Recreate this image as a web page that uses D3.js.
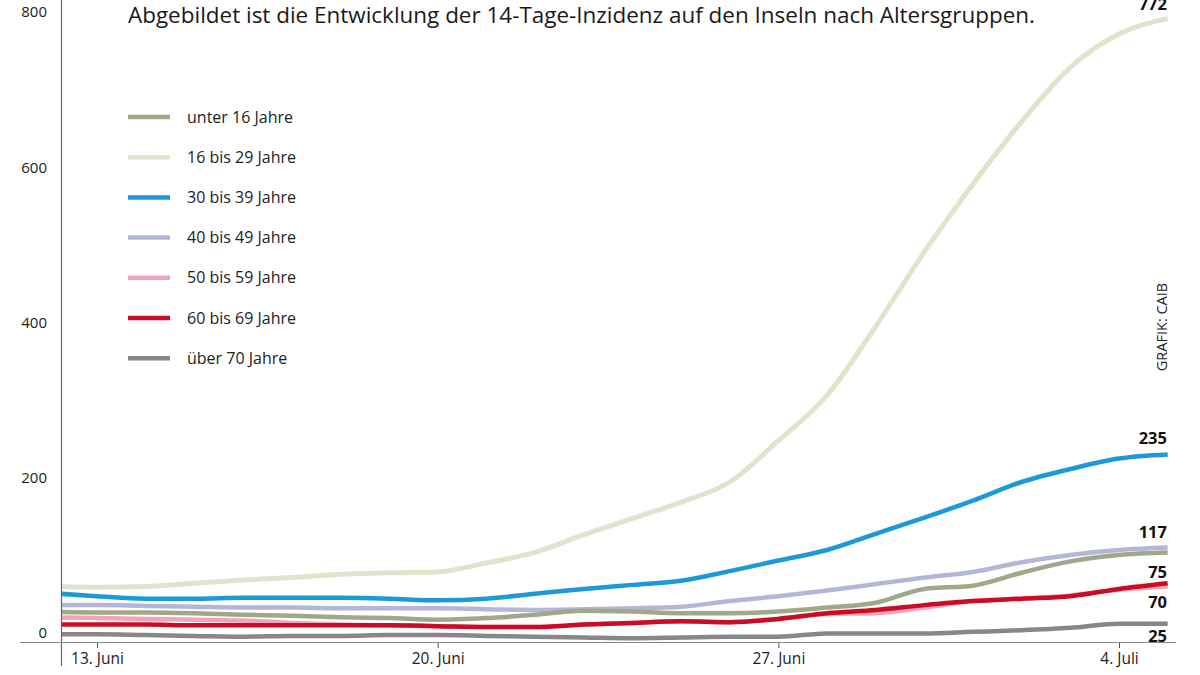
<!DOCTYPE html>
<html><head><meta charset="utf-8">
<script src="https://cdn.jsdelivr.net/npm/d3@7"></script>
<style>
html,body{margin:0;padding:0;background:#fff;}
svg{display:block;font-family:"Open Sans","Noto Sans",sans-serif;}
</style></head>
<body><svg id="c" width="1200" height="675"></svg>
<script>
const dates = ["2021-06-12","2021-06-13","2021-06-14","2021-06-15","2021-06-16","2021-06-17","2021-06-18","2021-06-19","2021-06-20","2021-06-21","2021-06-22","2021-06-23","2021-06-24","2021-06-25","2021-06-26","2021-06-27","2021-06-28","2021-06-29","2021-06-30","2021-07-01","2021-07-02","2021-07-03","2021-07-04","2021-07-05"];
const seriesNames = ["unter 16 Jahre","16 bis 29 Jahre","30 bis 39 Jahre","40 bis 49 Jahre","50 bis 59 Jahre","60 bis 69 Jahre","über 70 Jahre"];
const unter16 = [40,39,39,38,36,35,33,32,30,32,36,41,40,38,38,40,45,51,68,72,88,102,110,113];
const a16bis29 = [71,70,71,75,79,82,86,88,89,100,113,135,155,175,200,251,307,392,484,568,645,712,753,772];
const a30bis39 = [63,59,56,56,57,57,57,56,54,56,62,68,73,78,90,103,116,136,156,177,200,216,229,234];
const a40bis49 = [48,48,47,46,45,45,44,44,44,43,42,43,44,46,53,59,66,74,82,89,101,110,116,119];
const a50bis59 = [33,32,31,30,29,26,24,23,22,21,21,24,26,28,27,31,37,38,45,53,56,60,67,71];
const a60bis69 = [24,24,24,23,23,23,23,23,22,21,21,24,26,28,27,31,38,42,48,53,56,59,68,75];
const ueber70 = [12,12,11,10,9,10,10,11,11,10,9,8,7,8,9,9,13,13,13,15,17,20,25,25];
const endLabels = ["117","772","235","","70","75","25"];
const yTickValues = [0,200,400,600,800];
const xTickDates = ["2021-06-13","2021-06-20","2021-06-27","2021-07-04"];
const xTickLabels = ["13. Juni","20. Juni","27. Juni","4. Juli"];
const colors = ["#a2a78a","#dce6cd","#1b9ad7","#b3b7d7","#f1a4b5","#cc0b24","#878787"];
const title = "Abgebildet ist die Entwicklung der 14-Tage-Inzidenz auf den Inseln nach Altersgruppen.";
const credit = "GRAFIK: CAIB";

const allValues = [unter16,a16bis29,a30bis39,a40bis49,a50bis59,a60bis69,ueber70];
const parse = d3.timeParse("%Y-%m-%d");
const svg = d3.select("#c");

const x = d3.scaleTime().domain([parse("2021-06-13"), parse("2021-07-04")]).range([97,1119]);
const y = d3.scaleLinear().domain([0,800]).range([644,-4]);
const yLab = d3.scaleLinear().domain([0,800]).range([633,12]);

svg.append("defs").append("clipPath").attr("id","clip")
  .append("rect").attr("x",62).attr("y",0).attr("width",1120).attr("height",660);

// title
svg.append("text").attr("x",128).attr("y",23).attr("font-size",22.5).attr("fill","#1a1a1a")
  .attr("textLength",907).attr("lengthAdjust","spacingAndGlyphs").text(title);

// y axis labels
const yAxis = d3.axisLeft(yLab).tickValues(yTickValues).tickSize(0).tickPadding(0).tickFormat(d3.format("d"));
const ga = svg.append("g").attr("transform","translate(47,0)").call(yAxis);
ga.select(".domain").remove();
ga.selectAll("text").attr("font-size",15).attr("fill","#222").attr("font-family","Open Sans, sans-serif");

svg.append("line").attr("x1",61.5).attr("x2",61.5).attr("y1",0).attr("y2",666).attr("stroke","#666").attr("stroke-width",1.2);

// x axis
const xAxis = d3.axisBottom(x).tickValues(xTickDates.map(parse)).tickSize(6).tickPadding(5)
  .tickFormat((d,i)=>xTickLabels[i]);
const gx = svg.append("g").attr("transform","translate(0,642)").call(xAxis);
gx.select(".domain").remove();
gx.selectAll(".tick line").attr("stroke","#555");
gx.selectAll("text").attr("font-size",15.5).attr("fill","#222").attr("font-family","Open Sans, sans-serif");
svg.append("line").attr("x1",20).attr("x2",1176).attr("y1",642.5).attr("y2",642.5).attr("stroke","#888").attr("stroke-width",1.2);

// lines
const line = d3.line().x((d,i)=>x(parse(dates[i]))).y(d=>y(d)).curve(d3.curveMonotoneX);
const order = [1,2,3,0,4,5,6];
const gl = svg.append("g").attr("clip-path","url(#clip)");
order.forEach(k=>{
  gl.append("path").datum(allValues[k]).attr("d",line).attr("fill","none")
    .attr("stroke",colors[k]).attr("stroke-width",k===1?5:4.5).attr("stroke-linecap","butt").attr("stroke-linejoin","round");
});

// legend
seriesNames.forEach((n,i)=>{
  const yy = 117 + i*40.2;
  svg.append("line").attr("x1",128).attr("x2",170).attr("y1",yy).attr("y2",yy).attr("stroke",colors[i]).attr("stroke-width",4.5);
  svg.append("text").attr("x",187).attr("y",yy+5.5).attr("font-size",16).attr("fill","#222").text(n);
});

// end labels
const labelY = {1:10, 2:444, 0:538, 5:578, 4:608, 6:642};
Object.keys(labelY).forEach(k=>{
  svg.append("text").attr("x",1167).attr("y",labelY[k]).attr("text-anchor","end")
    .attr("font-size",16.5).attr("font-weight","bold").attr("fill","#111").text(endLabels[k]);
});

// credit
svg.append("text").attr("transform","translate(1167,327) rotate(-90)").attr("text-anchor","middle")
  .attr("font-size",14.5).attr("fill","#222").text(credit);
</script></body></html>
